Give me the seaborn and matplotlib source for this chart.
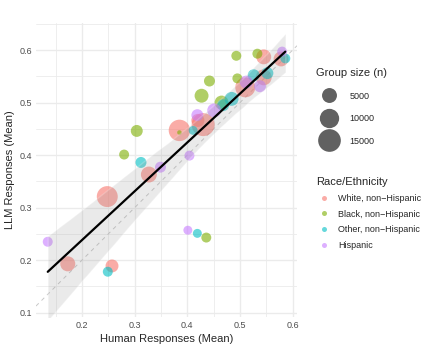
import numpy as np
import pandas as pd
import matplotlib
matplotlib.use("Agg")
import matplotlib.pyplot as plt
import seaborn as sns
from matplotlib.lines import Line2D
from matplotlib.ticker import MultipleLocator

# --- data (mean human vs mean LLM response, group size) ---
races = ["White, non\u2212Hispanic", "Black, non\u2212Hispanic",
         "Other, non\u2212Hispanic", "Hispanic"]
colors = ["#F8766D", "#7CAE00", "#00BFC4", "#C77CFF"]

human_white = [0.248, 0.173, 0.257, 0.327, 0.385, 0.430, 0.420, 0.510, 0.545, 0.545, 0.578]
llm_white   = [0.321, 0.193, 0.189, 0.363, 0.447, 0.458, 0.466, 0.529, 0.548, 0.587, 0.583]
n_white     = [12300, 5100, 3300, 6000, 13000, 15500, 3400, 10900, 6000, 5000, 5000]

human_black = [0.280, 0.304, 0.385, 0.427, 0.442, 0.465, 0.493, 0.495, 0.533, 0.436]
llm_black   = [0.401, 0.446, 0.443, 0.513, 0.541, 0.500, 0.589, 0.546, 0.593, 0.243]
n_black     = [1450, 2600, 110, 4100, 2000, 4100, 1450, 1450, 1450, 1450]

human_other = [0.249, 0.312, 0.419, 0.411, 0.468, 0.484, 0.526, 0.552, 0.586]
llm_other   = [0.178, 0.386, 0.251, 0.447, 0.495, 0.507, 0.552, 0.556, 0.584]
n_other     = [1450, 2000, 1000, 1000, 2600, 4100, 2600, 2600, 1450]

human_hisp = [0.135, 0.349, 0.404, 0.401, 0.419, 0.451, 0.512, 0.538, 0.580]
llm_hisp   = [0.235, 0.377, 0.399, 0.257, 0.476, 0.485, 0.539, 0.531, 0.597]
n_hisp     = [1450, 2000, 1450, 1000, 2600, 4100, 3300, 2600, 1450]

size_breaks = [5000, 10000, 15000]

df = pd.concat([
    pd.DataFrame({"human": h, "llm": l, "n": n, "race": r})
    for h, l, n, r in [(human_white, llm_white, n_white, races[0]),
                       (human_black, llm_black, n_black, races[1]),
                       (human_other, llm_other, n_other, races[2]),
                       (human_hisp, llm_hisp, n_hisp, races[3])]
], ignore_index=True)

# ggplot-like area scale: diameter grows with sqrt of the rescaled value
n_min, n_max = df["n"].min(), df["n"].max()
def diam_px(v):
    return 4.5 + 18.5 * np.sqrt((v - n_min) / (n_max - n_min))
def marker_area(v):
    return (diam_px(v) * 0.72) ** 2

size_map = {v: marker_area(v) for v in df["n"].unique()}
palette = dict(zip(races, colors))

sns.set_style("white")
plt.rcParams["font.family"] = ["Liberation Sans", "DejaVu Sans"]

fig = plt.figure(figsize=(4.32, 3.6), dpi=100)
ax = fig.add_axes([36 / 432, 1 - 317 / 360, 261 / 432, (317 - 22.7) / 360])

# y = x reference
ax.axline((0, 0), slope=1, color="#c8c8c8", lw=0.7, ls=(0, (4, 4)), zorder=1)

sns.scatterplot(data=df, x="human", y="llm", hue="race", hue_order=races,
                palette=palette, size="n", sizes=size_map, alpha=0.6,
                linewidth=0, legend=False, ax=ax, zorder=2)

sns.regplot(data=df, x="human", y="llm", scatter=False, ci=99, n_boot=4000,
            seed=3, color="black", line_kws=dict(lw=1.6, zorder=4), ax=ax)
band = ax.collections[-1]
band.set_facecolor("#999999")
band.set_alpha(0.2)
band.set_zorder(3)

ax.set_xlim(0.1127, 0.6082)
ax.set_ylim(0.0918, 0.652)
ax.xaxis.set_major_locator(MultipleLocator(0.1))
ax.xaxis.set_minor_locator(MultipleLocator(0.05))
ax.yaxis.set_major_locator(MultipleLocator(0.1))
ax.yaxis.set_minor_locator(MultipleLocator(0.05))
ax.grid(which="major", color="#ebebeb", lw=1.0)
ax.grid(which="minor", color="#ebebeb", lw=0.6)
ax.set_axisbelow(True)
for s in ax.spines.values():
    s.set_visible(False)
ax.tick_params(which="both", length=0, labelsize=6.5, labelcolor="#4d4d4d", pad=3)
ax.set_xlabel("Human Responses (Mean)", fontsize=8, labelpad=3)
ax.set_ylabel("LLM Responses (Mean)", fontsize=8, labelpad=3)

# size legend
size_handles = [Line2D([], [], marker="o", ls="", markersize=diam_px(b) * 0.72,
                       markerfacecolor="black", markeredgewidth=0, alpha=0.62)
                for b in size_breaks]
leg1 = fig.legend(size_handles, [str(b) for b in size_breaks], title="Group size (n)",
                  loc="upper left", bbox_to_anchor=(316 / 432, 1 - 68 / 360),
                  frameon=False, fontsize=6.5, title_fontsize=8, labelspacing=1.5,
                  handlelength=2.9, handletextpad=0.78, borderpad=0, borderaxespad=0,
                  alignment="left")

# race legend
race_handles = [Line2D([], [], marker="o", ls="", markersize=3.6, markerfacecolor=c,
                       markeredgewidth=0, alpha=0.6) for c in colors]
leg2 = fig.legend(race_handles, races, title="Race/Ethnicity",
                  loc="upper left", bbox_to_anchor=(316 / 432, 1 - 177 / 360),
                  frameon=False, fontsize=6.5, title_fontsize=8, labelspacing=0.75,
                  handlelength=1.77, handletextpad=0.66, borderpad=0, borderaxespad=0,
                  alignment="left")

fig.savefig("out.png", dpi=100)
